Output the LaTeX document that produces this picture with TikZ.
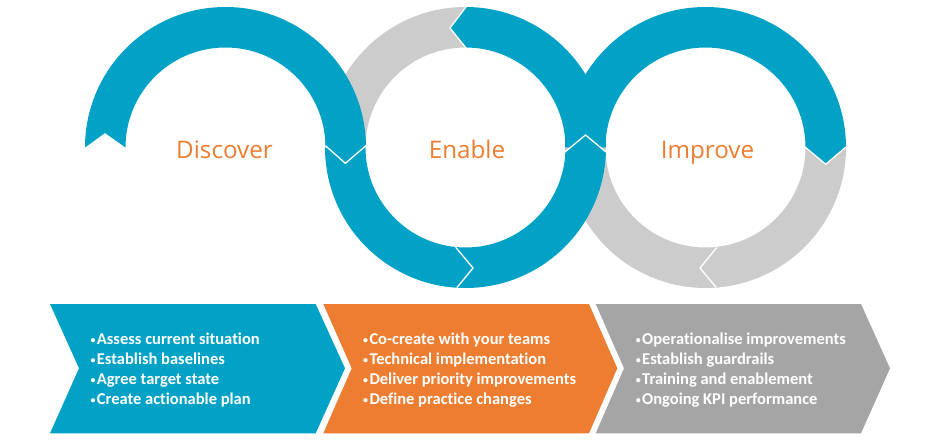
\documentclass[tikz,border=0pt]{standalone}
\usepackage{fontspec}
\setmainfont[Ligatures=NoCommon]{Carlito}
\newfontfamily\headfont{Open Sans}
\definecolor{ringteal}{HTML}{02A2C6}
\definecolor{ringgray}{HTML}{CCCCCC}
\definecolor{accorange}{HTML}{ED7D31}
\definecolor{boxgray}{HTML}{A5A5A5}
\newcommand{\itm}[1]{\makebox[6.4pt][l]{\raisebox{1.2pt}{\fontsize{10}{10}\selectfont •}}#1}
\tikzset{
  seam/.style={draw=white,line width=1.3pt,line join=miter},
  heading/.style={font=\headfont\fontsize{24.2}{28}\selectfont,text=accorange,anchor=base,inner sep=0pt},
  listing/.style={font=\bfseries\fontsize{16.5}{20}\selectfont,text=white,anchor=west,align=left,inner sep=0pt},
}
\newcommand{\ringpath}[5]{% centre, start, end (outer), end (inner), tip coord
  ([shift={(#2:140.5pt)}]#1) arc[start angle=#2,end angle=#3,radius=140.5pt]
  -- (#5) -- ([shift={(#4:100pt)}]#1) arc[start angle=#4,end angle=#2,radius=100pt] -- cycle}
\begin{document}
\begin{tikzpicture}[x=1pt,y=1pt]
\useasboundingbox (0,0) rectangle (940,440);
\coordinate (D) at (225.5,292.5);
\coordinate (E) at (465.5,292.5);
\coordinate (I) at (705.5,292.5);
% gray rings
\fill[ringgray] \ringpath{E}{180}{90}{90}{465.5,392.5};
\fill[ringgray] \ringpath{I}{180}{276}{276}{716,172};
\coordinate (grayTip) at (700,172);
\fill[ringgray] \ringpath{I}{360}{274.5}{276.4}{grayTip};
% teal upper pieces
\coordinate (enableTopTip) at (450,412);
\fill[ringteal] \ringpath{E}{0}{90}{90}{enableTopTip};
\coordinate (improveTip) at (825.7,275.7);
\fill[ringteal] \ringpath{I}{180}{0}{0}{improveTip};
% enable lower
\coordinate (enableUpTip) at (585.5,305);
\fill[ringteal] \ringpath{E}{180}{358.2}{357.4}{enableUpTip};
% discover
\coordinate (discoverTip) at (345.4,276.7);
\coordinate (discoverNotch) at (105,307);
\fill[ringteal] ([shift={(180:140.5pt)}]D) arc[start angle=180,end angle=1,radius=140.5pt]
  -- (discoverTip) -- ([shift={(1:100pt)}]D) arc[start angle=1,end angle=180,radius=100pt]
  -- (discoverNotch) -- cycle;
% seams
\coordinate (s1a) at (325.4,294.3); \coordinate (s1b) at (365.9,294.3);
\draw[seam] (s1a) -- (discoverTip) -- (s1b);
\coordinate (s2a) at (466,433); \coordinate (s2b) at (466,392);
\draw[seam] (s2a) -- (enableTopTip) -- (s2b);
\coordinate (s3a) at (455.7,192.7); \coordinate (s3b) at (473,172); \coordinate (s3c) at (457,152.5);
\draw[seam] (s3a) -- (s3b) -- (s3c);
\coordinate (s4a) at (565,288); \coordinate (s4b) at (606,288);
\draw[seam] (s4a) -- (enableUpTip) -- (s4b);
\coordinate (s5a) at (805,293); \coordinate (s5b) at (846,293);
\draw[seam] (s5a) -- (improveTip) -- (s5b);
\coordinate (s6a) at (716.7,192.4); \coordinate (s6b) at (716.2,152.5);
\draw[seam] (s6a) -- (grayTip) -- (s6b);
% headings
\node[heading] (discover) at (224.5,281.6) {Discover};
\node[heading] (enable) at (467,281.6) {Enable};
\node[heading] (improve) at (707.5,281.6) {Improve};
% bottom chevrons
\fill[ringteal] (50,136) -- (315.7,136) -- (345,71.7) -- (315.7,6.7) -- (50,6.7) -- (79,71.7) -- cycle;
\fill[accorange] (323.3,136) -- (589,136) -- (617.3,71.7) -- (589,6.7) -- (323.3,6.7) -- (351.7,71.7) -- cycle;
\fill[boxgray] (595.7,136) -- (861,136) -- (890,71.7) -- (861,6.7) -- (595.7,6.7) -- (624,71.7) -- cycle;
\node[listing] (list1) at (90.3,70) {\itm{Assess current situation}\\\itm{Establish baselines}\\\itm{Agree target state}\\\itm{Create actionable plan}};
\node[listing] (list2) at (362.9,70) {\itm{Co-create with your teams}\\\itm{Technical implementation}\\\itm{Deliver priority improvements}\\\itm{Define practice changes}};
\node[listing] (list3) at (635.6,70) {\itm{Operationalise improvements}\\\itm{Establish guardrails}\\\itm{Training and enablement}\\\itm{Ongoing KPI performance}};
\end{tikzpicture}
\end{document}
